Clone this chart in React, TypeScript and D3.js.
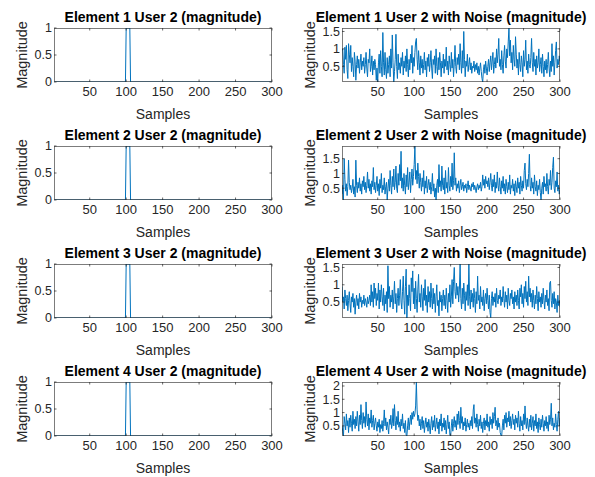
import React from "react";
import * as d3 from "d3";

const width = 595;
const height = 477;

// sample axis
const xTicks = [50, 100, 150, 200, 250, 300];
const pulseTicks = [0, 0.5, 1];

// clean pulse (same for all 4 elements), as sample / value pairs
const pulseSamples = [1, 99, 100, 105, 106, 300];
const pulseValues = [0, 0, 1, 1, 0, 0];

// noisy magnitudes
const noisy1 = [
  0.95, 1.0, 0.55, 0.3, 1.05, 0.7, 1.1, 0.4, 0.15, 1.15, 0.85, 0.6, 1.1, 0.35, 0.75, 0.5, 0.2, 0.9, 0.65, 0.1,
  0.55, 0.8, 0.45, 0.7, 0.3, 0.6, 0.85, 0.4, 0.65, 0.5, 0.75, 0.3, 0.55, 0.9, 0.45, 0.2, 0.7, 0.6, 1.0, 0.35,
  0.5, 0.8, 0.25, 0.65, 0.4, 0.7, 0.55, 0.1, 0.45, 0.05, 0.6, 0.85, 0.3, 0.95, 0.5, 0.2, 1.47, 0.6, 0.25, 0.9,
  0.4, 0.15, 0.75, 0.3, 0.55, 0.8, 0.2, 1.0, 0.45, 1.4, 0.6, 0.05, 0.35, 0.7, 1.42, 0.5, 0.15, 0.85, 0.4, 0.6,
  0.3, 0.75, 0.5, 0.9, 0.25, 0.65, 0.45, 0.8, 0.35, 1.0, 0.55, 0.2, 0.7, 0.4, 0.85, 0.6, 1.1, 0.3, 0.75, 0.5,
  0.9, 1.2, 1.3, 0.7, 0.4, 0.95, 0.6, 0.25, 0.8, 0.45, 0.7, 0.3, 0.55, 0.9, 0.4, 0.65, 0.2, 0.75, 0.5, 0.85,
  0.35, 0.6, 0.95, 0.45, 0.15, 0.7, 0.55, 0.8, 0.3, 1.0, 0.5, 0.25, 0.75, 0.4, 0.9, 0.6, 0.2, 0.65, 0.45, 0.85,
  0.3, 0.7, 0.5, 1.05, 0.4, 0.65, 0.25, 0.8, 0.55, 0.35, 0.9, 0.45, 0.7, 0.2, 0.6, 1.1, 0.5, 0.3, 0.75, 0.55,
  0.85, 0.4, 1.15, 0.6, 0.3, 0.95, 0.45, 1.5, 0.7, 0.2, 0.65, 0.5, 0.85, 0.35, 0.55, 0.75, 0.4, 0.6, 0.3, 0.5,
  0.45, 0.65, 0.35, 0.55, 0.4, 0.6, 0.3, 0.5, 0.25, 0.45, 0.6, 0.35, 0.15, 0.05, 0.4, 0.55, 0.3, 0.65, 0.45, 0.25,
  0.5, 0.7, 0.35, 0.6, 0.8, 0.4, 0.65, 0.9, 0.3, 0.55, 0.75, 0.45, 1.0, 0.6, 0.85, 1.3, 0.5, 0.7, 0.4, 0.95,
  0.55, 0.3, 0.8, 1.1, 0.65, 0.45, 1.0, 0.75, 1.2, 1.6, 0.8, 1.25, 0.6, 0.9, 0.4, 1.1, 0.7, 0.5, 1.35, 0.85,
  0.45, 0.7, 0.25, 0.9, 0.55, 0.35, 0.8, 0.6, 0.2, 0.95, 0.5, 0.7, 1.25, 0.4, 0.65, 0.3, 0.85, 0.55, 0.45, 0.75,
  1.3, 0.6, 0.35, 0.9, 0.5, 0.7, 0.25, 0.8, 0.45, 0.6, 1.0, 0.35, 0.55, 0.75, 0.3, 0.85, 0.5, 0.2, 0.65, 0.4,
  0.7, 0.3, 0.55, 0.9, 0.45, 0.2, 0.65, 0.35, 1.15, 0.5, 0.8, 0.25, 0.6, 0.95, 1.2, 0.45, 0.7, 0.55, 0.8, 0.65,
];

const noisy2 = [
  0.3, 0.6, 0.1, 1.5, 0.8, 0.4, 0.65, 0.25, 0.55, 1.45, 0.7, 0.45, 0.6, 0.35, 0.5, 0.8, 0.3, 0.55, 0.2, 1.45,
  0.6, 0.35, 0.7, 0.5, 0.85, 0.4, 0.65, 0.3, 0.75, 0.55, 0.9, 0.45, 0.7, 0.35, 0.6, 1.05, 0.5, 0.8, 0.4, 0.65,
  0.3, 0.75, 0.55, 1.2, 0.45, 0.7, 0.35, 0.6, 0.9, 0.4, 0.65, 0.25, 0.8, 0.5, 1.0, 0.35, 0.6, 0.45, 0.85, 0.3,
  0.55, 0.7, 0.1, 0.5, 0.8, 0.4, 1.1, 0.6, 0.3, 0.9, 0.55, 1.15, 0.45, 0.7, 1.25, 0.5, 0.35, 1.0, 0.6, 1.3,
  0.75, 1.75, 0.5, 0.85, 0.4, 1.0, 0.6, 0.3, 0.95, 0.55, 1.2, 0.45, 0.7, 1.05, 0.35, 0.8, 1.15, 0.6, 0.9, 1.3,
  1.93, 0.8, 1.1, 0.65, 1.35, 0.9, 0.5, 1.0, 0.7, 0.4, 0.85, 0.55, 1.1, 0.3, 0.75, 0.5, 0.9, 0.35, 0.6, 0.8,
  0.45, 0.7, 0.3, 0.55, 1.0, 0.4, 0.65, 0.2, 0.5, 0.1, 0.6, 0.8, 0.35, 1.3, 0.55, 0.75, 0.4, 1.25, 0.6, 0.45,
  0.85, 0.3, 1.1, 0.5, 0.7, 0.35, 1.2, 0.6, 0.4, 0.9, 0.55, 1.35, 0.45, 0.75, 1.7, 0.6, 0.85, 0.4, 0.65, 0.5,
  0.75, 0.35, 0.6, 0.8, 0.45, 0.55, 0.7, 0.4, 0.6, 0.5, 0.65, 0.35, 0.55, 0.75, 0.45, 0.6, 0.5, 0.4, 0.65, 0.55,
  0.7, 0.45, 0.6, 0.5, 0.35, 0.55, 0.65, 0.45, 0.6, 0.5, 0.7, 0.4, 0.55, 0.95, 0.6, 0.8, 0.5, 0.9, 0.65, 0.75,
  0.55, 0.85, 0.45, 0.7, 1.0, 0.6, 0.4, 0.8, 0.55, 0.95, 0.35, 0.7, 0.5, 1.05, 0.6, 0.4, 0.85, 0.55, 0.3, 0.75,
  0.5, 0.9, 0.4, 0.65, 0.3, 0.8, 0.55, 0.35, 0.7, 0.45, 0.95, 0.3, 0.6, 0.5, 0.8, 0.4, 0.65, 0.25, 0.75, 0.55,
  0.35, 0.85, 0.5, 0.7, 0.3, 0.9, 0.6, 0.4, 0.75, 0.5, 1.1, 1.35, 0.65, 0.45, 0.8, 0.55, 1.0, 1.65, 0.6, 0.4,
  0.85, 0.5, 0.7, 0.3, 0.95, 0.55, 0.4, 0.75, 0.25, 0.6, 0.45, 0.8, 0.35, 0.1, 0.5, 0.7, 0.3, 0.9, 0.55, 0.65,
  0.4, 1.0, 0.55, 0.3, 0.8, 0.6, 1.1, 0.45, 0.7, 1.2, 1.55, 0.5, 0.35, 0.75, 0.55, 1.05, 0.4, 0.6, 0.3, 0.45,
];

const noisy3 = [
  0.95, 0.5, 0.65, 0.3, 0.85, 0.6, 0.4, 0.7, 0.25, 0.55, 0.8, 0.45, 0.2, 0.65, 0.5, 0.75, 0.35, 0.6, 0.15, 0.5,
  0.7, 0.4, 0.6, 0.3, 0.75, 0.5, 0.65, 0.35, 0.55, 0.45, 0.7, 0.4, 0.6, 0.5, 0.35, 0.65, 0.45, 0.55, 0.7, 0.4,
  1.0, 0.5, 0.8, 0.35, 1.05, 0.6, 0.9, 0.4, 0.75, 0.55, 1.05, 0.3, 0.85, 0.5, 1.0, 0.65, 0.4, 0.9, 0.25, 0.7,
  0.45, 0.8, 0.2, 1.55, 0.6, 0.95, 0.35, 0.7, 0.5, 0.85, 0.3, 0.65, 1.1, 0.45, 0.75, 0.2, 0.6, 0.9, 0.4, 0.7,
  1.15, 0.5, 0.3, 0.8, 1.25, 0.55, 0.15, 0.95, 1.45, 0.04, 0.7, 0.4, 1.0, 0.6, 0.25, 1.2, 0.8, 1.4, 0.45, 0.9,
  0.3, 1.1, 0.6, 0.2, 0.85, 1.3, 0.5, 0.75, 0.35, 1.0, 0.65, 0.25, 0.9, 0.55, 1.15, 0.4, 0.7, 0.2, 0.95, 0.5,
  0.8, 0.35, 1.05, 0.6, 0.3, 0.9, 0.45, 0.75, 0.2, 0.65, 1.0, 0.4, 0.55, 0.1, 0.8, 0.5, 0.7, 0.25, 0.6, 0.85,
  0.4, 0.7, 0.3, 0.9, 0.55, 0.2, 0.75, 0.5, 1.0, 0.35, 0.65, 1.15, 0.45, 1.1, 1.5, 0.8, 0.6, 1.05, 0.7, 0.95,
  0.5, 0.85, 1.6, 0.6, 0.3, 0.9, 0.45, 1.05, 0.7, 0.25, 0.8, 0.55, 1.0, 0.4, 1.6, 0.65, 0.3, 0.85, 0.5, 0.75,
  0.35, 0.9, 0.6, 0.2, 0.8, 0.45, 1.25, 0.55, 0.7, 0.3, 0.95, 0.5, 0.65, 0.4, 0.85, 0.25, 0.6, 0.75, 0.45, 0.9,
  0.55, 0.3, 0.7, 0.2, 0.05, 0.6, 0.8, 0.4, 0.65, 0.5, 0.75, 0.35, 0.9, 0.55, 0.45, 0.7, 0.6, 0.85, 0.4, 0.65,
  0.5, 0.95, 0.6, 0.35, 0.8, 0.5, 0.7, 0.3, 0.9, 0.55, 0.4, 0.75, 0.6, 0.85, 0.45, 0.65, 0.3, 0.8, 0.5, 0.7,
  0.4, 0.85, 0.55, 0.3, 0.9, 0.65, 1.0, 0.45, 0.75, 0.35, 0.95, 0.6, 1.1, 0.5, 0.8, 0.4, 1.25, 0.65, 0.9, 0.5,
  0.75, 0.35, 0.85, 0.55, 0.3, 0.7, 0.45, 0.95, 0.6, 0.25, 0.8, 0.5, 0.65, 0.35, 0.75, 0.45, 0.9, 0.55, 0.3, 0.7,
  0.5, 0.85, 0.4, 0.6, 0.25, 1.05, 1.1, 0.55, 0.35, 0.75, 0.45, 0.8, 0.3, 0.6, 0.5, 0.2, 0.7, 0.4, 0.55, 0.35,
];

const noisy4 = [
  0.5, 0.3, 0.12, 0.85, 0.6, 0.35, 0.95, 0.5, 0.7, 0.25, 0.8, 0.45, 0.9, 0.6, 0.3, 1.05, 0.55, 0.75, 0.4, 0.85,
  0.5, 1.05, 0.65, 0.3, 0.9, 0.55, 1.3, 0.7, 0.4, 1.0, 0.6, 0.85, 0.45, 1.4, 0.75, 0.5, 0.95, 0.35, 0.8, 0.6,
  1.1, 0.45, 0.7, 0.9, 0.35, 0.6, 0.8, 0.5, 0.3, 0.65, 0.45, 0.75, 0.25, 0.55, 0.4, 0.7, 0.3, 0.6, 1.1, 0.5,
  0.8, 0.35, 0.65, 0.45, 0.2, 0.75, 0.55, 0.9, 0.4, 0.6, 1.15, 0.5, 1.3, 0.7, 0.35, 0.85, 0.55, 1.05, 0.45, 0.65,
  0.3, 0.75, 0.5, 0.95, 0.4, 0.6, 0.25, 0.7, 0.15, 0.12, 0.5, 0.8, 0.35, 0.65, 0.9, 0.55, 1.0, 0.75, 1.05, 0.85,
  0.95, 1.25, 2.15, 1.1, 0.7, 0.9, 0.5, 0.75, 0.35, 0.6, 0.85, 0.4, 0.7, 0.25, 0.55, 0.8, 0.45, 0.65, 0.3, 0.75,
  0.5, 0.2, 0.6, 0.85, 0.35, 0.7, 0.45, 0.9, 0.3, 0.55, 0.8, 0.4, 0.65, 0.2, 0.75, 0.5, 0.95, 0.3, 0.6, 0.45,
  0.8, 0.35, 0.7, 0.2, 0.55, 0.9, 0.4, 0.65, 0.15, 0.12, 0.5, 0.75, 0.3, 0.6, 0.85, 0.45, 0.7, 0.35, 0.95, 0.55,
  1.05, 0.7, 0.4, 1.2, 0.6, 0.85, 0.35, 0.65, 0.5, 0.8, 0.3, 0.55, 0.75, 0.45, 0.6, 0.35, 0.7, 0.5, 0.85, 0.4,
  1.1, 1.3, 0.6, 0.8, 0.45, 0.95, 0.55, 0.3, 0.75, 0.5, 0.9, 0.4, 0.65, 0.25, 0.6, 0.8, 0.35, 0.7, 0.5, 0.95,
  0.45, 0.65, 0.3, 0.85, 0.55, 0.75, 0.4, 1.0, 0.6, 0.85, 1.2, 0.5, 0.7, 0.35, 0.8, 0.45, 0.6, 0.25, 0.15, 0.12,
  0.5, 0.75, 0.35, 0.9, 0.6, 1.0, 0.45, 0.8, 0.65, 1.05, 0.5, 0.85, 0.4, 0.7, 0.95, 0.55, 0.75, 0.35, 0.9, 0.6,
  0.8, 0.45, 1.05, 0.6, 0.3, 0.85, 0.5, 0.7, 0.35, 0.95, 0.55, 1.25, 0.65, 0.4, 0.8, 0.5, 0.3, 0.75, 0.45, 0.9,
  0.35, 0.6, 0.85, 0.3, 0.7, 0.5, 0.95, 0.4, 0.65, 0.25, 0.8, 0.55, 0.35, 0.75, 0.45, 0.9, 0.6, 0.3, 0.7, 0.5,
  0.85, 0.4, 0.65, 0.3, 0.9, 0.55, 0.75, 1.35, 0.5, 0.8, 0.35, 0.6, 0.45, 0.95, 0.55, 0.3, 0.75, 1.05, 0.5, 0.8,
];

const noisySeries = [noisy1, noisy2, noisy3, noisy4];
const noisyTicks = [
  [0.5, 1, 1.5],
  [0.5, 1, 1.5],
  [0.5, 1, 1.5],
  [0.5, 1, 1.5, 2],
];

const colLeft = [54, 342];
const plotW = 218;
const rowTop = [28, 146, 264, 382];
const plotH = 54;

const font = "'Liberation Sans', Arial, Helvetica, sans-serif";
const axisColor = "#262626";
const lineColor = "#0072BD";

type PanelProps = {
  id: string;
  x0: number;
  y0: number;
  xs: number[];
  ys: number[];
  yDomain: [number, number];
  yTicks: number[];
  title: string;
};

const Panel = ({ id, x0, y0, xs, ys, yDomain, yTicks, title }: PanelProps) => {
  const xScale = d3.scaleLinear().domain([1, 300]).range([x0, x0 + plotW]);
  const yScale = d3.scaleLinear().domain(yDomain).range([y0 + plotH, y0]);
  const line = d3
    .line<number>()
    .x((d, i) => xScale(xs[i]))
    .y(d => yScale(d));
  const bottom = y0 + plotH;
  const right = x0 + plotW;
  const fmt = (v: number) => String(v);
  return (
    <g>
      <clipPath id={id}>
        <rect x={x0} y={y0} width={plotW} height={plotH} />
      </clipPath>
      <rect x={x0} y={y0} width={plotW} height={plotH} fill="#fff" />
      <path
        d={line(ys) || ""}
        fill="none"
        stroke={lineColor}
        strokeWidth={1}
        clipPath={`url(#${id})`}
      />
      <rect
        x={x0 + 0.5}
        y={y0 + 0.5}
        width={plotW - 1}
        height={plotH - 1}
        fill="none"
        stroke={axisColor}
        strokeOpacity={0.75}
        strokeWidth={0.8}
      />
      {xTicks.map(t => (
        <g key={"x" + t}>
          <line x1={xScale(t)} x2={xScale(t)} y1={bottom} y2={bottom - 2.5} stroke={axisColor} strokeWidth={0.7} />
          <line x1={xScale(t)} x2={xScale(t)} y1={y0} y2={y0 + 2.5} stroke={axisColor} strokeWidth={0.7} />
          <text x={xScale(t)} y={bottom + 4} dy="0.76em" textAnchor="middle" fontSize={13} fill={axisColor}>
            {fmt(t)}
          </text>
        </g>
      ))}
      {yTicks.map(t => (
        <g key={"y" + t}>
          <line x1={x0} x2={x0 + 2.5} y1={yScale(t)} y2={yScale(t)} stroke={axisColor} strokeWidth={0.7} />
          <line x1={right} x2={right - 2.5} y1={yScale(t)} y2={yScale(t)} stroke={axisColor} strokeWidth={0.7} />
          <text x={x0 - 2} y={yScale(t)} dy="0.35em" textAnchor="end" fontSize={12.5} fill={axisColor}>
            {fmt(t)}
          </text>
        </g>
      ))}
      <text x={x0 + plotW / 2} y={y0 - 6} textAnchor="middle" fontSize={14} fontWeight="bold" fill="#000">
        {title}
      </text>
      <text x={x0 + plotW / 2} y={bottom + 37} textAnchor="middle" fontSize={14} fill={axisColor}>
        Samples
      </text>
      <text
        transform={`translate(${x0 - 32},${y0 + plotH / 2}) rotate(-90)`}
        textAnchor="middle"
        dy="0.32em"
        fontSize={14.5}
        fill={axisColor}
      >
        Magnitude
      </text>
    </g>
  );
};

export default function App() {
  return (
    <svg
      width={width}
      height={height}
      style={{ position: "absolute", left: 0, top: 0, background: "#fff" }}
      fontFamily={font}
    >
      <rect width={width} height={height} fill="#fff" />
      {rowTop.map((top, r) => {
        const noisy = noisySeries[r];
        const ext = d3.extent(noisy) as [number, number];
        return (
          <g key={r}>
            <Panel
              id={`clipL${r}`}
              x0={colLeft[0]}
              y0={top}
              xs={pulseSamples}
              ys={pulseValues}
              yDomain={[0, 1]}
              yTicks={pulseTicks}
              title={`Element ${r + 1} User 2 (magnitude)`}
            />
            <Panel
              id={`clipR${r}`}
              x0={colLeft[1]}
              y0={top}
              xs={noisy.map((d, i) => i + 1)}
              ys={noisy}
              yDomain={ext}
              yTicks={noisyTicks[r]}
              title={`Element ${r + 1} User 2 with Noise (magnitude)`}
            />
          </g>
        );
      })}
    </svg>
  );
}
